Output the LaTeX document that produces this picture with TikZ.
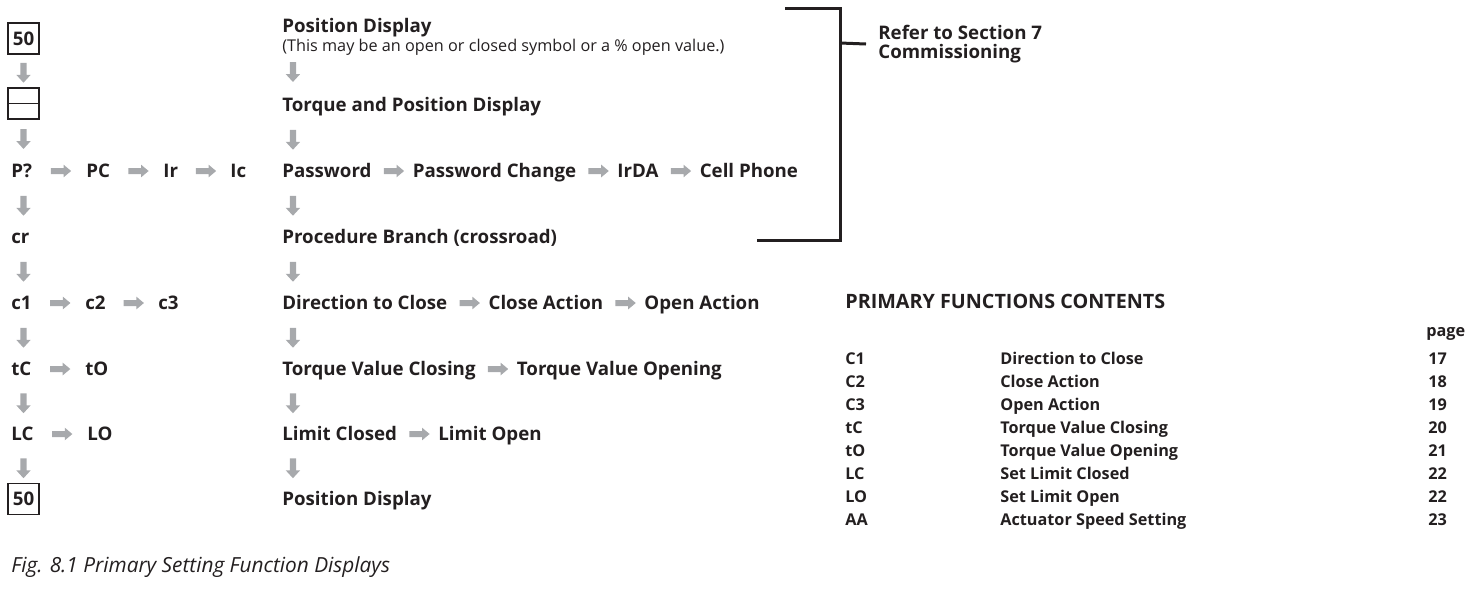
\documentclass[tikz,border=0pt]{standalone}
\usepackage{fontspec}
\setmainfont{Open Sans}
\usetikzlibrary{positioning,shapes.arrows}
\definecolor{ink}{HTML}{231F20}
\definecolor{arrgray}{HTML}{A7A9AC}
\newcommand{\lblfont}{\fontsize{10.6}{12}\selectfont\bfseries}
\newcommand{\tabfont}{\fontsize{9.2}{11}\selectfont\bfseries}
\tikzset{
  lbl/.style={anchor=west,inner sep=0pt,text height=7.6pt,text depth=0pt,text=ink,font=\lblfont},
  tab/.style={lbl,text height=6.6pt,font=\tabfont},
  disp/.style={draw=ink,line width=0.8pt,minimum size=17.6pt,inner sep=0pt,text=ink,font=\lblfont},
  harr/.style={single arrow,fill=arrgray,draw=none,inner xsep=0pt,inner ysep=1.5pt,
    minimum height=11.5pt,single arrow head extend=1.9pt,single arrow tip angle=80},
  varr/.style={single arrow,fill=arrgray,draw=none,shape border rotate=270,inner sep=1.6pt,
    minimum height=11.3pt,single arrow head extend=2.3pt,single arrow tip angle=85},
  brk/.style={draw=ink,line width=1.7pt},
}

\begin{document}
\begin{tikzpicture}[x=0.5669pt,y=-0.5669pt]
   \useasboundingbox (0,0) rectangle (1468,613);

   % display codes
   \node[disp] (top50) at (23.5,38.5) {50};
   \node[disp] (bars) at (23.5,103.5) {};
   \draw[ink,line width=0.8pt] (bars.west) -- (bars.east);
   \node[lbl] (dpq) at ( 11,171) {P?};
   \node[lbl] (dpc) at ( 86,171) {PC};
   \node[lbl] (dir) at (163,171) {Ir};
   \node[lbl] (dic) at (230,171) {Ic};
   \node[lbl] (dcr) at ( 11,237) {cr};
   \node[lbl] (dc1) at ( 11,303) {c1};
   \node[lbl] (dc2) at ( 85,303) {c2};
   \node[lbl] (dc3) at (158,303) {c3};
   \node[lbl] (dtc) at ( 11,369) {tC};
   \node[lbl] (dto) at ( 85,369) {tO};
   \node[lbl] (dlc) at ( 11,434) {LC};
   \node[lbl] (dlo) at ( 87,434) {LO};
   \node[disp] (end50) at (23.5,499) {50};

   \foreach \a/\b in {top50/bars,bars/dpq,dpq/dcr,dcr/dc1,dc1/dtc,dtc/dlc,dlc/end50}
     \path (\a -| top50) -- (\b -| top50) node[midway,varr]{};
   \foreach \a/\b in {dpq/dpc,dpc/dir,dir/dic,dc1/dc2,dc2/dc3,dtc/dto,dlc/dlo}
     \path (\a.east) -- (\b.west) node[midway,harr]{};

   % meanings
   \node[lbl] (tpos) at (282,26) {Position Display};
   \node[anchor=west,inner sep=0pt,text=ink,font=\fontsize{9.2}{10}\selectfont] (tnote) at (282,47)
     {(This may be an open or closed symbol or a \% open value.)};
   \node[lbl] (ttq) at (282,105) {Torque and Position Display};
   \node[lbl] (tpw) at (282,171) {Password};
   \node[lbl,right=23pt of tpw] (tpwc) {Password Change};
   \node[lbl,right=23pt of tpwc] (tirda) {IrDA};
   \node[lbl,right=23pt of tirda] (tcell) {Cell Phone};
   \node[lbl] (tproc) at (282,237) {Procedure Branch (crossroad)};
   \node[lbl] (tdir) at (282,303) {Direction to Close};
   \node[lbl,right=23pt of tdir] (tclose) {Close Action};
   \node[lbl,right=23pt of tclose] (topen) {Open Action};
   \node[lbl] (ttqc) at (282,369) {Torque Value Closing};
   \node[lbl,right=23pt of ttqc] (ttqo) {Torque Value Opening};
   \node[lbl] (tlimc) at (282,434) {Limit Closed};
   \node[lbl,right=23pt of tlimc] (tlimo) {Limit Open};
   \node[lbl] (tposb) at (282,499) {Position Display};

   \path ([xshift=6.2pt]tpos.west) -- ([xshift=6.2pt]ttq.west) node[pos=0.56,varr]{};
   \foreach \a/\b in {ttq/tpw,tpw/tproc,tproc/tdir,tdir/ttqc,ttqc/tlimc,tlimc/tposb}
     \path ([xshift=6.2pt]\a.west) -- ([xshift=6.2pt]\b.west) node[midway,varr]{};
   \foreach \a/\b in {tpw/tpwc,tpwc/tirda,tirda/tcell,tdir/tclose,tclose/topen,ttqc/ttqo,tlimc/tlimo}
     \path (\a.east) -- (\b.west) node[midway,harr]{};

   % bracket
   \node[anchor=west,align=left,inner sep=0pt,text=ink,font=\fontsize{10.6}{10.5}\selectfont\bfseries]
     (refer) at (878,44) {Refer to Section 7\\Commissioning};
   \coordinate (brtop) at (785,8);
   \coordinate (brbot) at (757,240);
   \draw[brk] (brtop) -| (840,124) |- (brbot);
   \draw[brk] (840,43) -- ([xshift=-6.8pt]refer.west);

   % contents table
   \node[anchor=west,inner sep=0pt,text=ink,font=\fontsize{11.2}{13}\selectfont\bfseries]
     (ttitle) at (845,301) {PRIMARY FUNCTIONS CONTENTS};
   \node[tab] (pghead) at (1426,331) {page};
   \foreach \code/\desc/\pg [count=\i] in {C1/Direction to Close/17,C2/Close Action/18,
       C3/Open Action/19,tC/Torque Value Closing/20,tO/Torque Value Opening/21,
       LC/Set Limit Closed/22,LO/Set Limit Open/22,AA/Actuator Speed Setting/23} {
     \node[tab] (code\i) at (845,336+23*\i) {\code};
     \node[tab] (desc\i) at (1000,336+23*\i) {\desc};
     \node[tab] (pg\i) at (1428,336+23*\i) {\pg};
   }

   \node[anchor=west,inner sep=0pt,text=ink,font=\fontsize{11.8}{13}\selectfont\itshape]
     (caption) at (11,567) {Fig. 8.1 Primary Setting Function Displays};
\end{tikzpicture}
\end{document}
